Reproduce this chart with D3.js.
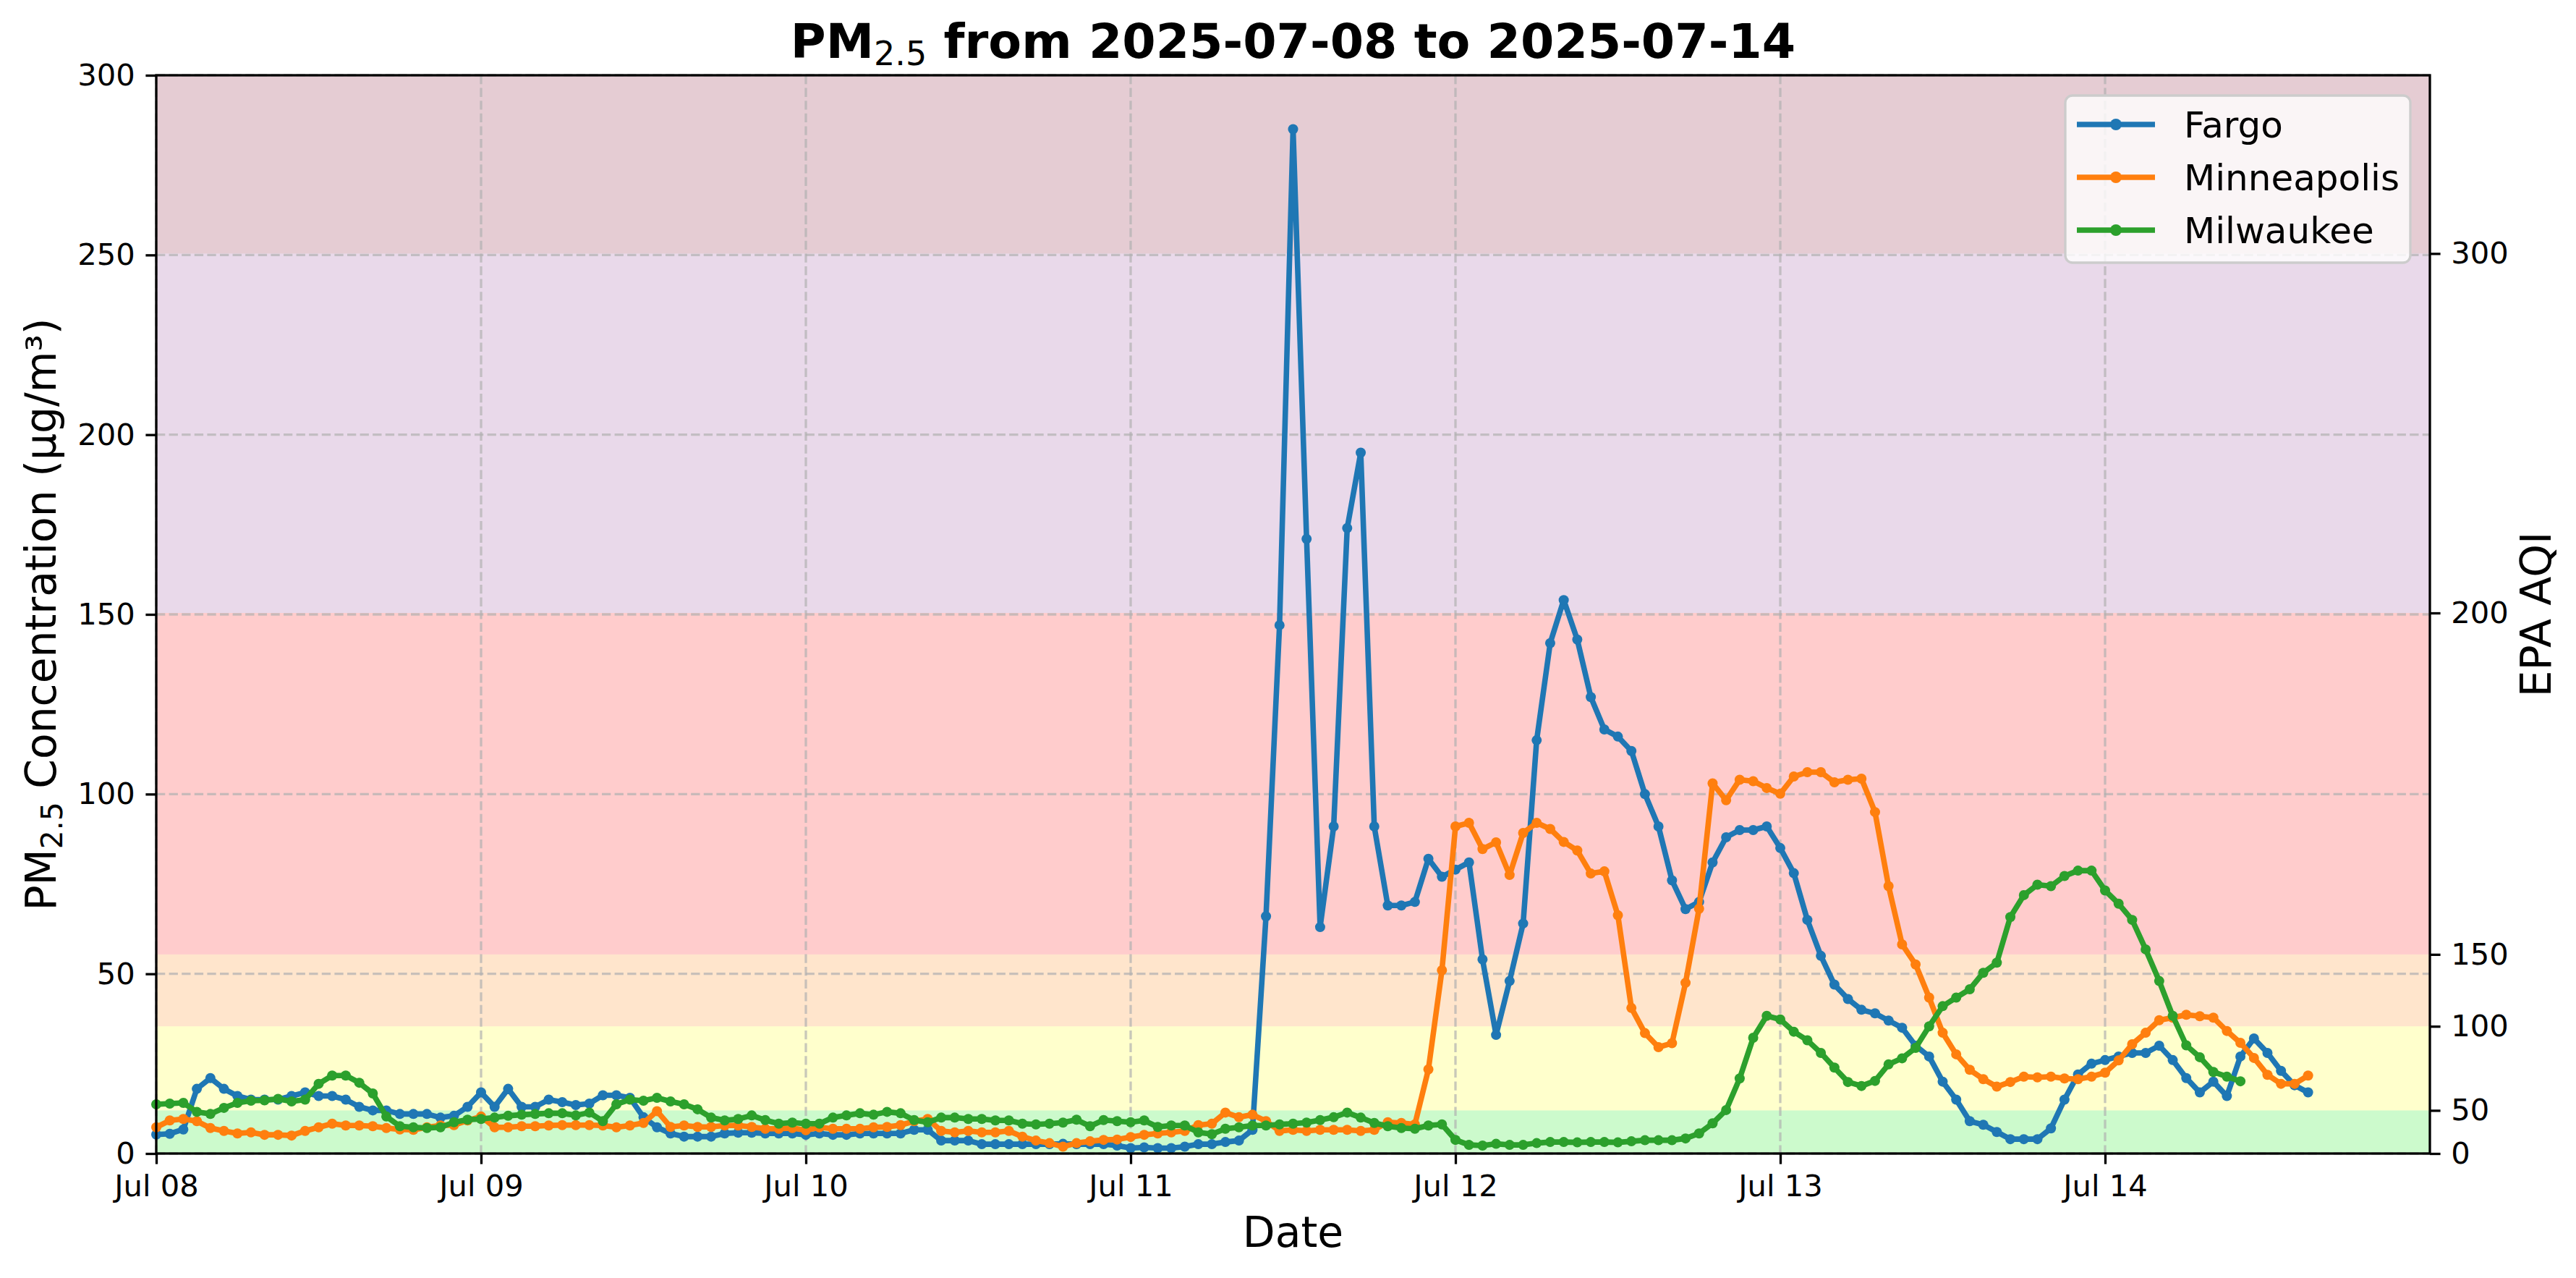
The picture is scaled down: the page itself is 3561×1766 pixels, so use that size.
<!DOCTYPE html>
<html>
<head>
<meta charset="utf-8">
<script src="https://cdn.jsdelivr.net/npm/d3@7"></script>
<style>
	html, body { margin: 0; padding: 0; background: #ffffff; }
	svg { display: block; font-family: 'DejaVu Sans', sans-serif; }
</style>
</head>
<body>
<div id="chart"></div>
<script>
/*** Data ---> ***/
var startDay = new Date(Date.UTC(2025, 6, 8));
var endDay = new Date(Date.UTC(2025, 6, 15));

var cities = ['Fargo', 'Minneapolis', 'Milwaukee'];

// hourly PM2.5 (ug/m3), first value at 2025-07-08 00:00
var fargo = [
	5.3, 5.5, 6.7, 18, 21, 18, 16, 15, 15, 15,
	16, 17, 16, 16, 15, 13, 12, 12, 11, 11,
	11, 10, 10.5, 13, 17, 13, 18, 13, 13, 15,
	14.3, 13.5, 13.9, 16.2, 16.2, 15.5, 10.1, 7.3, 5.6, 4.7,
	4.7, 4.7, 5.6, 5.8, 5.8, 5.6, 5.6, 5.6, 5.2, 5.6,
	5.2, 5.2, 5.6, 5.6, 5.6, 5.6, 6.6, 6.6, 3.6, 3.6,
	3.6, 2.6, 2.6, 2.6, 2.6, 2.6, 2.6, 2.7, 2.6, 2.6,
	2.6, 2.2, 1.5, 1.7, 1.5, 1.5, 1.9, 2.6, 2.6, 3.2,
	3.6, 6.6, 66, 147, 285, 171, 63, 91, 174, 195,
	91, 69, 69, 70, 82, 77, 79, 81, 54, 33,
	48, 64, 115, 142, 154, 143, 127, 118, 116, 112,
	100, 91, 76, 68, 70, 81, 88, 90, 90, 91,
	85, 78, 65, 55, 47, 43, 40, 39, 37, 35,
	30, 27, 20, 15, 9, 8, 6, 4, 4, 4,
	7, 15, 22, 25, 26, 27, 28, 28, 30, 26,
	21, 17, 20, 16, 27, 32, 28, 23, 19, 17
];
var minneapolis = [
	7.3, 9.2, 9.6, 9, 7.1, 6.3, 5.6, 5.9, 5.2, 5.2,
	5, 6.3, 7.3, 8.3, 7.8, 7.8, 7.6, 7.1, 6.7, 6.6,
	7.3, 7.8, 7.9, 9.2, 10.3, 7.3, 7.3, 7.6, 7.6, 7.8,
	7.9, 7.9, 7.9, 7.8, 7.3, 7.8, 8.5, 11.8, 7.4, 7.8,
	7.4, 7.4, 7.8, 7.8, 7.4, 6.9, 6.9, 7.1, 6.5, 7.3,
	6.9, 6.9, 6.9, 7.3, 7.4, 7.9, 9, 9.6, 6.3, 5.9,
	6.3, 5.9, 5.9, 6.3, 4.7, 3.6, 2.9, 1.9, 2.9, 3.4,
	3.8, 3.9, 4.6, 5.2, 5.6, 5.9, 6.3, 7.9, 8.3, 11.4,
	10.1, 10.8, 9, 6.3, 6.6, 6.3, 6.6, 6.6, 6.6, 6.3,
	6.6, 8.7, 8.5, 8.1, 23.4, 51, 91, 92, 84.7, 86.6,
	77.5, 89.2, 92, 90.3, 86.7, 84.3, 77.9, 78.5, 66.3, 40.5,
	33.5, 29.6, 30.7, 47.5, 68.1, 103, 98.3, 104, 103.6, 101.7,
	100.1, 104.9, 106.1, 106.1, 103.3, 104, 104.3, 95, 74.4, 58.2,
	52.6, 43.4, 33.6, 27.6, 23.3, 20.7, 18.6, 19.9, 21.4, 21.2,
	21.4, 20.9, 20.7, 21.4, 22.5, 25.9, 30.4, 33.6, 37.1, 37.8,
	38.6, 38.2, 37.8, 34.1, 30.8, 26.6, 21.9, 19.4, 19.4, 21.7
];
var milwaukee = [
	13.7, 13.9, 14.1, 11.6, 11, 12.7, 14.1, 14.7, 14.8, 15.2,
	14.5, 15, 19.4, 21.7, 21.7, 19.7, 16.7, 10.3, 7.6, 7.3,
	7.1, 7.3, 8.7, 9.4, 9.6, 10, 10.5, 10.8, 11, 11.2,
	11.2, 10.6, 11.4, 9, 13.7, 15, 14.7, 15.5, 14.5, 13.7,
	12.3, 10, 9.2, 9.6, 10.6, 9.3, 8.3, 8.6, 8.3, 8.3,
	10, 10.6, 11.2, 10.8, 11.6, 11.2, 9.3, 8.7, 10, 10,
	9.6, 9.6, 9.2, 9.2, 8.3, 8.1, 8.3, 8.6, 9.4, 7.6,
	9.3, 9, 8.7, 9.2, 7.4, 7.8, 7.8, 5.9, 5.4, 6.9,
	7.3, 7.8, 7.8, 8.1, 8.3, 8.6, 9.3, 10.1, 11.4, 10,
	8.5, 7.6, 7.1, 6.9, 7.8, 8.1, 3.8, 2.4, 2.2, 2.7,
	2.4, 2.4, 2.9, 3.2, 3.2, 3.1, 3.2, 3.2, 3.1, 3.4,
	3.7, 3.7, 3.7, 4.2, 5.6, 8.4, 12.1, 20.9, 32.2, 38.3,
	37.3, 33.9, 31.5, 28, 23.9, 19.9, 18.8, 20.2, 24.8, 26.5,
	29.4, 35.4, 41, 43.4, 45.7, 50.3, 53.1, 65.8, 71.9, 74.8,
	74.4, 77.2, 78.7, 78.7, 73.2, 69.5, 65, 56.8, 48, 38.3,
	30.1, 26.8, 22.7, 21.4, 20.1
];

var concTicks = [0, 50, 100, 150, 200, 250, 300];
// EPA AQI breakpoints (concentration) and their AQI labels
var aqiBreaks = [0, 12, 35.4, 55.4, 150.4, 250.4];
var aqiLabels = [0, 50, 100, 150, 200, 300];
var bandTops = [12, 35.4, 55.4, 150.4, 250.4, 300];
/*** <--- Data ***/

var cityColors = ['#1f77b4', '#ff7f0e', '#2ca02c'];
var bandColors = ['#00e400', '#ffff00', '#ff7e00', '#ff0000', '#8f3f97', '#7e0023'];

var width = 3561, height = 1766;
var plot = { left: 216, right: 3359, top: 104, bottom: 1594 };
var lineWidth = 7.6, markerRadius = 7, spineWidth = 3.3, tickLen = 14.6;

var svg = d3.select('#chart')
	.append('svg')
	.attr('width', width)
	.attr('height', height)
	.attr('viewBox', '0 0 ' + width + ' ' + height);

var x = d3.scaleUtc().domain([startDay, endDay]).range([plot.left, plot.right]);
var y = d3.scaleLinear().domain([0, 300]).range([plot.bottom, plot.top]);
var dayTicks = d3.utcDay.range(startDay, endDay);

function toSeries(values) {
	return values.map(function(v, i) {
		return { time: d3.utcHour.offset(startDay, i), value: v };
	});
}
var series = [fargo, minneapolis, milwaukee].map(toSeries);

// AQI bands
svg.append('g')
	.selectAll('rect')
	.data(bandTops)
	.enter()
	.append('rect')
	.attr('x', plot.left)
	.attr('width', plot.right - plot.left)
	.attr('y', function(d) { return y(d); })
	.attr('height', function(d, i) { return y(i === 0 ? 0 : bandTops[i - 1]) - y(d); })
	.attr('fill', function(d, i) { return bandColors[i]; })
	.attr('fill-opacity', 0.2);

// grid
var grid = svg.append('g')
	.attr('stroke', '#b0b0b0')
	.attr('stroke-opacity', 0.7)
	.attr('stroke-width', 3.3)
	.attr('stroke-dasharray', '12.3 5.3');
grid.selectAll('line.h')
	.data(concTicks)
	.enter()
	.append('line')
	.attr('class', 'h')
	.attr('x1', plot.left).attr('x2', plot.right)
	.attr('y1', function(d) { return y(d); })
	.attr('y2', function(d) { return y(d); });
grid.selectAll('line.v')
	.data(dayTicks)
	.enter()
	.append('line')
	.attr('class', 'v')
	.attr('y1', plot.top).attr('y2', plot.bottom)
	.attr('x1', function(d) { return x(d); })
	.attr('x2', function(d) { return x(d); });

// series lines + markers
var line = d3.line()
	.x(function(d) { return x(d.time); })
	.y(function(d) { return y(d.value); });

var cityLayer = svg.append('g')
	.selectAll('g')
	.data(series)
	.enter()
	.append('g')
	.attr('fill', function(d, i) { return cityColors[i]; })
	.attr('stroke', function(d, i) { return cityColors[i]; });

cityLayer.append('path')
	.attr('d', line)
	.attr('fill', 'none')
	.attr('stroke-width', lineWidth)
	.attr('stroke-linejoin', 'round');

cityLayer.selectAll('circle')
	.data(function(d) { return d; })
	.enter()
	.append('circle')
	.attr('cx', function(d) { return x(d.time); })
	.attr('cy', function(d) { return y(d.value); })
	.attr('r', markerRadius)
	.attr('stroke', 'none');

/*** Axes ---> ***/
function styleAxis(g) {
	g.select('.domain').remove();
	g.selectAll('.tick line').attr('stroke', '#000').attr('stroke-width', spineWidth);
	g.selectAll('.tick text')
		.attr('fill', '#000')
		.style('font-size', '41.7px')
		.style('font-family', "'DejaVu Sans', sans-serif");
}

svg.append('g')
	.attr('transform', 'translate(' + plot.left + ',0)')
	.call(d3.axisLeft(y).tickValues(concTicks).tickSize(tickLen).tickPadding(tickLen).tickSizeOuter(0))
	.call(styleAxis);

svg.append('g')
	.attr('transform', 'translate(' + plot.right + ',0)')
	.call(d3.axisRight(y).tickValues(aqiBreaks).tickSize(tickLen).tickPadding(tickLen).tickSizeOuter(0)
		.tickFormat(function(d, i) { return aqiLabels[i]; }))
	.call(styleAxis);

svg.append('g')
	.attr('transform', 'translate(0,' + plot.bottom + ')')
	.call(d3.axisBottom(x).tickValues(dayTicks).tickSize(tickLen).tickPadding(tickLen).tickSizeOuter(0)
		.tickFormat(d3.utcFormat('%b %d')))
	.call(styleAxis);

// spines
svg.append('rect')
	.attr('x', plot.left)
	.attr('y', plot.top)
	.attr('width', plot.right - plot.left)
	.attr('height', plot.bottom - plot.top)
	.attr('fill', 'none')
	.attr('stroke', '#000')
	.attr('stroke-width', spineWidth);
/*** <--- Axes ***/

/*** Texts ---> ***/
var midX = (plot.left + plot.right) / 2;
var midY = (plot.top + plot.bottom) / 2;

var title = svg.append('text')
	.attr('x', midX)
	.attr('y', 80)
	.attr('text-anchor', 'middle')
	.attr('font-weight', 'bold')
	.style('font-size', '66.7px');
title.append('tspan').text('PM');
title.append('tspan').attr('dy', 10).style('font-size', '46px').attr('font-weight', 'normal').text('2.5');
title.append('tspan').attr('dy', -10).text(' from 2025-07-08 to 2025-07-14');

var yLabel = svg.append('text')
	.attr('transform', 'translate(77,' + midY + ') rotate(-90)')
	.attr('text-anchor', 'middle')
	.style('font-size', '58.3px');
yLabel.append('tspan').text('PM');
yLabel.append('tspan').attr('dy', 9).style('font-size', '40.8px').text('2.5');
yLabel.append('tspan').attr('dy', -9).text(' Concentration (\u00b5g/m\u00b3)');

svg.append('text')
	.attr('transform', 'translate(3526,' + midY + ') rotate(-90)')
	.attr('text-anchor', 'middle')
	.style('font-size', '58.3px')
	.text('EPA AQI');

svg.append('text')
	.attr('x', midX)
	.attr('y', 1723)
	.attr('text-anchor', 'middle')
	.style('font-size', '58.3px')
	.text('Date');
/*** <--- Texts ***/

/*** Legend ---> ***/
var legend = svg.append('g');
legend.append('rect')
	.attr('x', 2855)
	.attr('y', 132)
	.attr('width', 477)
	.attr('height', 231)
	.attr('rx', 10)
	.attr('fill', '#ffffff')
	.attr('fill-opacity', 0.8)
	.attr('stroke', '#cccccc')
	.attr('stroke-width', 3.3);

var legendRows = legend.selectAll('g.row')
	.data(cities)
	.enter()
	.append('g')
	.attr('class', 'row')
	.attr('transform', function(d, i) { return 'translate(0,' + (172 + i * 73) + ')'; });
legendRows.append('line')
	.attr('x1', 2871).attr('x2', 2979)
	.attr('stroke', function(d, i) { return cityColors[i]; })
	.attr('stroke-width', lineWidth);
legendRows.append('circle')
	.attr('cx', 2925)
	.attr('r', markerRadius + 1)
	.attr('fill', function(d, i) { return cityColors[i]; });
legendRows.append('text')
	.attr('x', 3019)
	.attr('y', 18)
	.style('font-size', '50px')
	.text(function(d) { return d; });
/*** <--- Legend ***/
</script>
</body>
</html>
